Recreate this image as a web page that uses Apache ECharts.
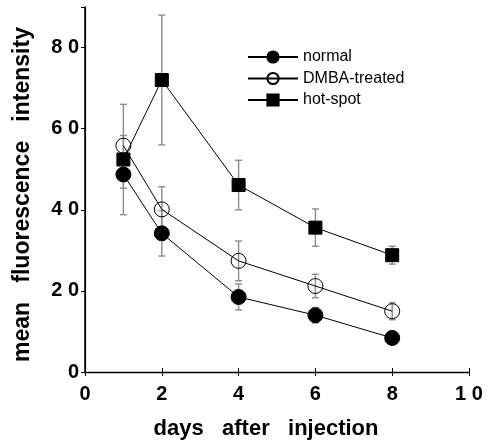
<!DOCTYPE html>
<html><head><meta charset="utf-8">
<script src="https://cdn.jsdelivr.net/npm/echarts@6/dist/echarts.min.js"></script>
<style>html,body{margin:0;padding:0;background:#fff}#c{width:487px;height:441px}</style>
</head><body><div id="c"></div>
<script>
var days = [1, 2, 4, 6, 8];
var normalVals = [48.7, 34.2, 18.5, 14.0, 8.4];
var normalErr = [3.4, 5.6, 3.2, 1.9, 0.6];
var dmbaVals = [55.8, 40.1, 27.4, 21.2, 15.0];
var dmbaErr = [2.5, 5.6, 4.9, 2.9, 2.1];
var hotVals = [52.4, 72.0, 46.1, 35.6, 28.8];
var hotErr = [13.6, 16.0, 6.1, 4.6, 2.2];
var seriesNames = ['normal', 'DMBA-treated', 'hot-spot'];

var FONT = 'Liberation Sans';
function spaced(v){ return String(v).split('').join(' '); }
function pts(vals){ return days.map(function(d,i){ return [d, vals[i]]; }); }
function errData(vals, errs){ return days.map(function(d,i){ return [d, vals[i]-errs[i], vals[i]+errs[i]]; }); }

function errSeries(vals, errs){
  return {
    type: 'custom', xAxisIndex: 0, yAxisIndex: 0, z: 1, silent: true,
    data: errData(vals, errs),
    renderItem: function(params, api){
      var lo = api.coord([api.value(0), api.value(1)]);
      var hi = api.coord([api.value(0), api.value(2)]);
      var w = 3.5;
      var st = {stroke: '#8c8c8c', lineWidth: 1.4};
      return {type: 'group', children: [
        {type: 'line', shape: {x1: lo[0], y1: lo[1], x2: hi[0], y2: hi[1]}, style: st},
        {type: 'line', shape: {x1: lo[0]-w, y1: lo[1], x2: lo[0]+w, y2: lo[1]}, style: st},
        {type: 'line', shape: {x1: hi[0]-w, y1: hi[1], x2: hi[0]+w, y2: hi[1]}, style: st}
      ]};
    }
  };
}

var chart = echarts.init(document.getElementById('c'), null, {renderer: 'canvas'});
var labelStyle = {fontFamily: FONT, fontWeight: 'bold', fontSize: 20, color: '#000'};
chart.setOption({
  animation: false,
  backgroundColor: '#fff',
  grid: {left: 85, right: 18, top: 7, bottom: 69, containLabel: false, outerBoundsMode: 'none'},
  legend: {
    orient: 'vertical', left: 242, top: 44, itemGap: 5.5, itemWidth: 50, itemHeight: 14,
    data: seriesNames,
    textStyle: {fontFamily: FONT, fontSize: 16, color: '#000'}
  },
  xAxis: [{
    type: 'value', min: 0, max: 10, interval: 2, position: 'bottom',
    axisLine: {lineStyle: {color: '#000', width: 1.3}},
    axisTick: {inside: true, length: 4, lineStyle: {color: '#000'}},
    splitLine: {show: false},
    axisLabel: Object.assign({margin: 12, formatter: spaced}, labelStyle),
    name: 'days   after   injection', nameLocation: 'middle', nameGap: 46,
    nameTextStyle: {fontFamily: FONT, fontWeight: 'bold', fontSize: 22, color: '#000', padding: [0, 22, 0, 0]}
  }, {
    type: 'value', min: 0, max: 10, interval: 2, position: 'top',
    axisLine: {show: true, lineStyle: {color: '#000', width: 1.2}},
    axisTick: {inside: true, length: 4, lineStyle: {color: '#000'}},
    axisLabel: {show: false}, splitLine: {show: false}
  }],
  yAxis: [{
    type: 'value', min: 0, max: 90, interval: 20, position: 'left',
    axisLine: {show: true, lineStyle: {color: '#000', width: 1.5}},
    axisTick: {show: true, inside: false, length: 4, lineStyle: {color: '#000'}},
    splitLine: {show: false},
    axisLabel: Object.assign({margin: 6, formatter: spaced, showMaxLabel: false}, labelStyle),
    name: 'mean   fluorescence   intensity', nameLocation: 'middle', nameGap: 51,
    nameTextStyle: {fontFamily: FONT, fontWeight: 'bold', fontSize: 23, color: '#000', padding: [0, 10, 0, 0]}
  }, {
    type: 'value', min: 0, max: 90, interval: 20, position: 'right',
    axisLine: {show: true, lineStyle: {color: '#000', width: 1.2}},
    axisTick: {show: true, inside: true, length: 4, lineStyle: {color: '#000'}},
    axisLabel: {show: false}, splitLine: {show: false}
  }],
  series: [
    errSeries(hotVals, hotErr),
    errSeries(dmbaVals, dmbaErr),
    errSeries(normalVals, normalErr),
    {
      name: 'normal', type: 'line', data: pts(normalVals), z: 3,
      symbol: 'circle', symbolSize: 15,
      lineStyle: {color: '#000', width: 1},
      itemStyle: {color: '#000', borderColor: '#000', borderWidth: 1}
    },
    {
      name: 'DMBA-treated', type: 'line', data: pts(dmbaVals), z: 3,
      symbol: 'circle', symbolSize: 15,
      lineStyle: {color: '#000', width: 1},
      itemStyle: {color: 'rgba(255,255,255,0)', borderColor: '#000', borderWidth: 1}
    },
    {
      name: 'hot-spot', type: 'line', data: pts(hotVals), z: 3,
      symbol: 'rect', symbolSize: 13,
      lineStyle: {color: '#000', width: 1},
      itemStyle: {color: '#000', borderColor: '#000', borderWidth: 1}
    }
  ]
});
</script></body></html>
